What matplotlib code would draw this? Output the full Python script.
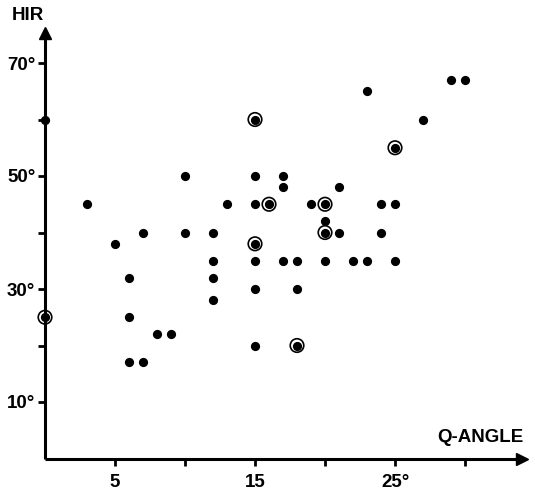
import matplotlib
matplotlib.use("Agg")
import matplotlib.pyplot as plt

# Plain dots (Q-angle, HIR)
q_plain = [0, 3, 5, 6, 6, 6, 7, 7, 8, 9, 10, 10, 12, 12, 12, 12, 13, 15, 15, 15, 15, 15,
           17, 17, 17, 18, 18, 19, 20, 20, 21, 21, 22, 23, 23, 24, 24, 25, 25, 27, 29, 30]
hir_plain = [60, 45, 38, 32, 25, 17, 40, 17, 22, 22, 50, 40, 40, 35, 32, 28, 45, 50, 45, 35, 30, 20,
             50, 48, 35, 35, 30, 45, 42, 35, 48, 40, 35, 65, 35, 45, 40, 45, 35, 60, 67, 67]
# Circled dots
q_circ = [0, 15, 25, 16, 20, 20, 15, 18]
hir_circ = [25, 60, 55, 45, 45, 40, 38, 20]

x_ticks = [5, 10, 15, 20, 25, 30]
x_labels = ["5", "", "15", "", "25°", ""]
y_ticks = [10, 20, 30, 40, 50, 60, 70]
y_labels = ["10°", "", "30°", "", "50°", "", "70°"]

W, H = 535, 493
fig = plt.figure(figsize=(W / 100, H / 100), dpi=100)
ax = fig.add_axes([45 / W, (H - 458.5) / H, 476 / W, (76 * 5.65) / H])
ax.set_xlim(0, 34)
ax.set_ylim(0, 76)
for s in ax.spines.values():
    s.set_visible(False)

font = dict(family=["Liberation Sans", "DejaVu Sans"], fontweight="bold", fontsize=13.5)

# axes with arrows
ax.plot([0, 34.1], [0, 0], color="black", lw=2.2, clip_on=False, solid_capstyle="butt")
ax.plot([0, 0], [0, 75.3], color="black", lw=2.2, clip_on=False, solid_capstyle="butt")
ax.plot([34.1], [0], marker=">", color="black", markersize=9, clip_on=False)
ax.plot([0], [75.3], marker="^", color="black", markersize=9, clip_on=False)

ax.set_xticks(x_ticks)
ax.set_xticklabels(x_labels, **font)
ax.set_yticks(y_ticks)
ax.set_yticklabels(y_labels, **font)
ax.tick_params(axis="both", direction="out", length=5, width=2, color="black")
ax.tick_params(axis="y", pad=2)
ax.tick_params(axis="x", pad=6)

ax.scatter(q_plain, hir_plain, s=44, color="black", zorder=3, clip_on=False, linewidths=0)
ax.scatter(q_circ, hir_circ, s=44, color="black", zorder=3, clip_on=False, linewidths=0)
ax.scatter(q_circ, hir_circ, s=95, facecolors="none", edgecolors="black", linewidths=1.2,
           zorder=3, clip_on=False)

fig.text(12 / W, 1 - 15 / H, "HIR", ha="left", va="center", **font)
fig.text(523 / W, 1 - 438 / H, "Q-ANGLE", ha="right", va="center", **font)

fig.savefig("out.png", dpi=100)
